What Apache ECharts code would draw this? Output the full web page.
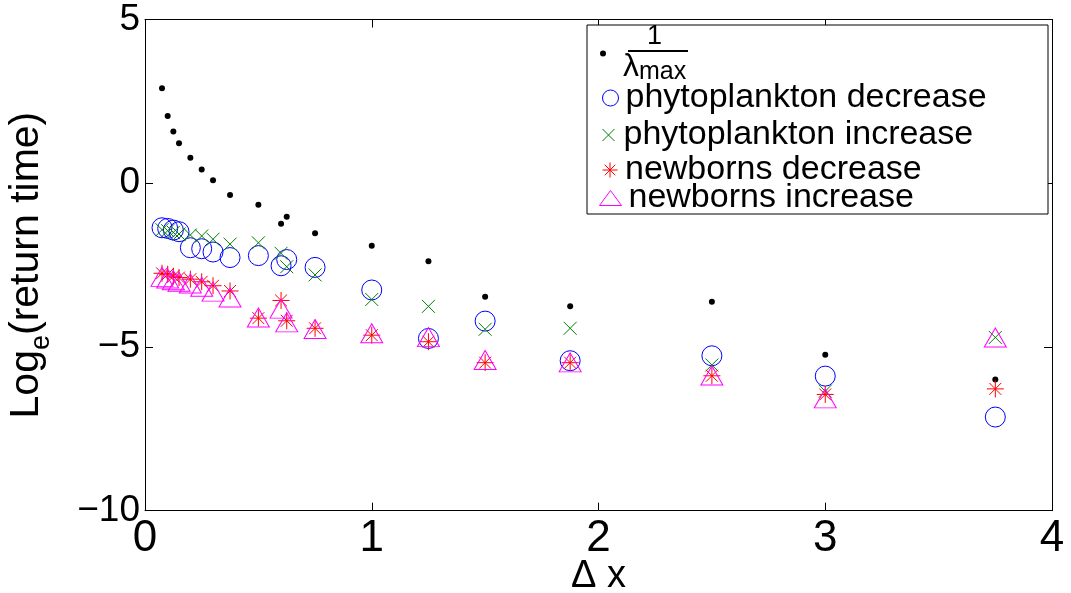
<!DOCTYPE html>
<html><head><meta charset="utf-8">
<script src="https://cdn.jsdelivr.net/npm/echarts@6/dist/echarts.min.js"></script>
<style>html,body{margin:0;padding:0;background:#fff}#c{width:1071px;height:593px}</style>
</head><body><div id="c"></div>
<script>
// ---- data ----
const dx = [0.075,0.1,0.125,0.15,0.2,0.25,0.3,0.375,0.5,0.6,0.625,0.75,1,1.25,1.5,1.875,2.5,3,3.75];
const invLambdaMax = [2.90,2.05,1.58,1.22,0.78,0.42,0.09,-0.36,-0.66,-1.24,-1.02,-1.53,-1.91,-2.38,-3.47,-3.76,-3.62,-5.24,-5.99];
const phytoDecrease = [-1.36,-1.38,-1.43,-1.48,-1.97,-2.00,-2.10,-2.27,-2.21,-2.52,-2.33,-2.57,-3.26,-4.74,-4.21,-5.42,-5.27,-5.89,-7.14];
const phytoIncrease = [-1.42,-1.45,-1.50,-1.55,-1.58,-1.61,-1.71,-1.86,-1.82,-2.14,-2.55,-2.80,-3.55,-3.76,-4.46,-4.43,-5.55,-6.35,-4.71];
const newbornsDecrease = [-2.75,-2.78,-2.84,-2.88,-2.93,-3.01,-3.13,-3.29,-4.12,-3.58,-4.20,-4.43,-4.64,-4.84,-5.48,-5.48,-5.88,-6.45,-6.28];
const newbornsIncrease = [-2.86,-2.91,-2.96,-3.01,-3.06,-3.16,-3.31,-3.49,-4.10,-3.83,-4.25,-4.45,-4.58,-4.70,-5.40,-5.47,-5.87,-6.57,-4.71];
const xTicks = [0,1,2,3,4];
const yTicks = [-10,-5,0,5];
const seriesNames = ['lambda','phytoplankton decrease','phytoplankton increase','newborns decrease','newborns increase'];

const FONT = "'Liberation Sans', Arial, Helvetica, sans-serif";
const X_PATH = 'path://M0,0L10,10M0,10L10,0';
const STAR_PATH = 'path://M5,0L5,10M0,5L10,5M1.5,1.5L8.5,8.5M1.5,8.5L8.5,1.5';
const pts = arr => dx.map((x, i) => [x, arr[i]]);

const chart = echarts.init(document.getElementById('c'), null, {renderer: 'canvas'});

const axisLineStyle = {show: true, onZero: false, lineStyle: {color: '#000', width: 1}};
const tickStyle = {show: true, inside: true, length: 8, lineStyle: {color: '#000', width: 1}};

function legendRow(name, left, centerY, icon, w, h, itemStyle, lineH) {
  return {
    show: true, orient: 'vertical', left: left, top: centerY - lineH / 2, padding: 0,
    selectedMode: false, itemWidth: w, itemHeight: h, z: 6,
    data: [{name: name, icon: icon, itemStyle: itemStyle}],
    textStyle: {fontFamily: FONT, fontSize: 34, color: '#000', lineHeight: lineH, padding: [0,0,0,2]}
  };
}

const option = {
  animation: false,
  backgroundColor: '#fff',
  textStyle: {fontFamily: FONT},
  grid: {left: 145, right: 19, top: 19.5, bottom: 82.3, containLabel: false, outerBoundsMode: 'none'},
  xAxis: [
    {type: 'value', min: 0, max: 4, interval: 1, position: 'bottom',
     axisLine: axisLineStyle, axisTick: tickStyle, splitLine: {show: false},
     axisLabel: {show: true, fontSize: 44, color: '#000', fontFamily: FONT, margin: 6,
       formatter: v => xTicks.includes(v) ? String(v) : ''},
     name: 'Δ x', nameLocation: 'middle', nameGap: 46, nameMoveOverlap: false,
     nameTextStyle: {fontSize: 38, lineHeight: 40, color: '#000', fontFamily: FONT}},
    {type: 'value', min: 0, max: 4, interval: 1, position: 'top',
     axisLine: axisLineStyle, axisTick: tickStyle, splitLine: {show: false}, axisLabel: {show: false}}
  ],
  yAxis: [
    {type: 'value', min: -10, max: 5, interval: 5, position: 'left',
     axisLine: axisLineStyle, axisTick: tickStyle, splitLine: {show: false},
     axisLabel: {show: true, fontSize: 37, color: '#000', fontFamily: FONT, margin: 5,
       formatter: v => yTicks.includes(v) ? String(v).replace('-', '\u2212') : ''},
     name: '{a|Log}{b|e}{a|(return time)}', nameLocation: 'middle', nameGap: 90, nameRotate: 90,
     nameTextStyle: {color: '#000', fontFamily: FONT,
       rich: {a: {fontSize: 41, lineHeight: 56, color: '#000', fontFamily: FONT},
              b: {fontSize: 27, lineHeight: 28, verticalAlign: 'bottom', color: '#000', fontFamily: FONT}}}},
    {type: 'value', min: -10, max: 5, interval: 5, position: 'right',
     axisLine: axisLineStyle, axisTick: tickStyle, splitLine: {show: false}, axisLabel: {show: false}}
  ],
  legend: [
    Object.assign(legendRow(seriesNames[0], 600, 54, 'circle', 16, 6, {color: '#000', borderWidth: 0}, 62), {
      formatter: () => '{n|1}\n{d|λ}{s|max}',
      textStyle: {fontFamily: FONT, color: '#000', padding: [0,0,0,7],
        rich: {n: {fontSize: 27, lineHeight: 28, align: 'center', color: '#000', fontFamily: FONT},
               d: {fontSize: 32, lineHeight: 34, color: '#000', fontFamily: FONT},
               s: {fontSize: 25, lineHeight: 24, verticalAlign: 'bottom', color: '#000', fontFamily: FONT}}}
    }),
    legendRow(seriesNames[1], 600, 98, 'circle', 16, 16, {color: 'none', borderColor: '#0000ff', borderWidth: 1}, 34),
    legendRow(seriesNames[2], 600, 135, X_PATH, 16, 12, {color: 'none', borderColor: '#008000', borderWidth: 1}, 34),
    legendRow(seriesNames[3], 600, 170, STAR_PATH, 16, 15, {color: 'none', borderColor: '#ff0000', borderWidth: 1}, 34),
    legendRow(seriesNames[4], 597, 198, 'triangle', 22, 15, {color: 'none', borderColor: '#ff00ff', borderWidth: 1}, 34)
  ],
  graphic: [
    {type: 'rect', z: 3, shape: {x: 587, y: 25, width: 461, height: 189},
     style: {fill: '#fff', stroke: '#000', lineWidth: 1}},
    {type: 'line', z: 10, shape: {x1: 628, y1: 51, x2: 688, y2: 51},
     style: {stroke: '#000', lineWidth: 2}}
  ],
  series: [
    {name: seriesNames[0], type: 'scatter', data: pts(invLambdaMax), symbol: 'circle', symbolSize: 6,
     itemStyle: {color: '#000', opacity: 1}},
    {name: seriesNames[1], type: 'scatter', data: pts(phytoDecrease), symbol: 'circle', symbolSize: 20,
     itemStyle: {color: 'none', borderColor: '#0000ff', borderWidth: 1, opacity: 1}},
    {name: seriesNames[2], type: 'scatter', data: pts(phytoIncrease), symbol: X_PATH, symbolSize: 13,
     itemStyle: {color: 'none', borderColor: '#008000', borderWidth: 1, opacity: 1}},
    {name: seriesNames[3], type: 'scatter', data: pts(newbornsDecrease), symbol: STAR_PATH, symbolSize: 17,
     itemStyle: {color: 'none', borderColor: '#ff0000', borderWidth: 1, opacity: 1}},
    {name: seriesNames[4], type: 'scatter', data: pts(newbornsIncrease), symbol: 'triangle', symbolSize: [22, 19],
     itemStyle: {color: 'none', borderColor: '#ff00ff', borderWidth: 1, opacity: 1}}
  ]
};
chart.setOption(option);
</script>
</body></html>
